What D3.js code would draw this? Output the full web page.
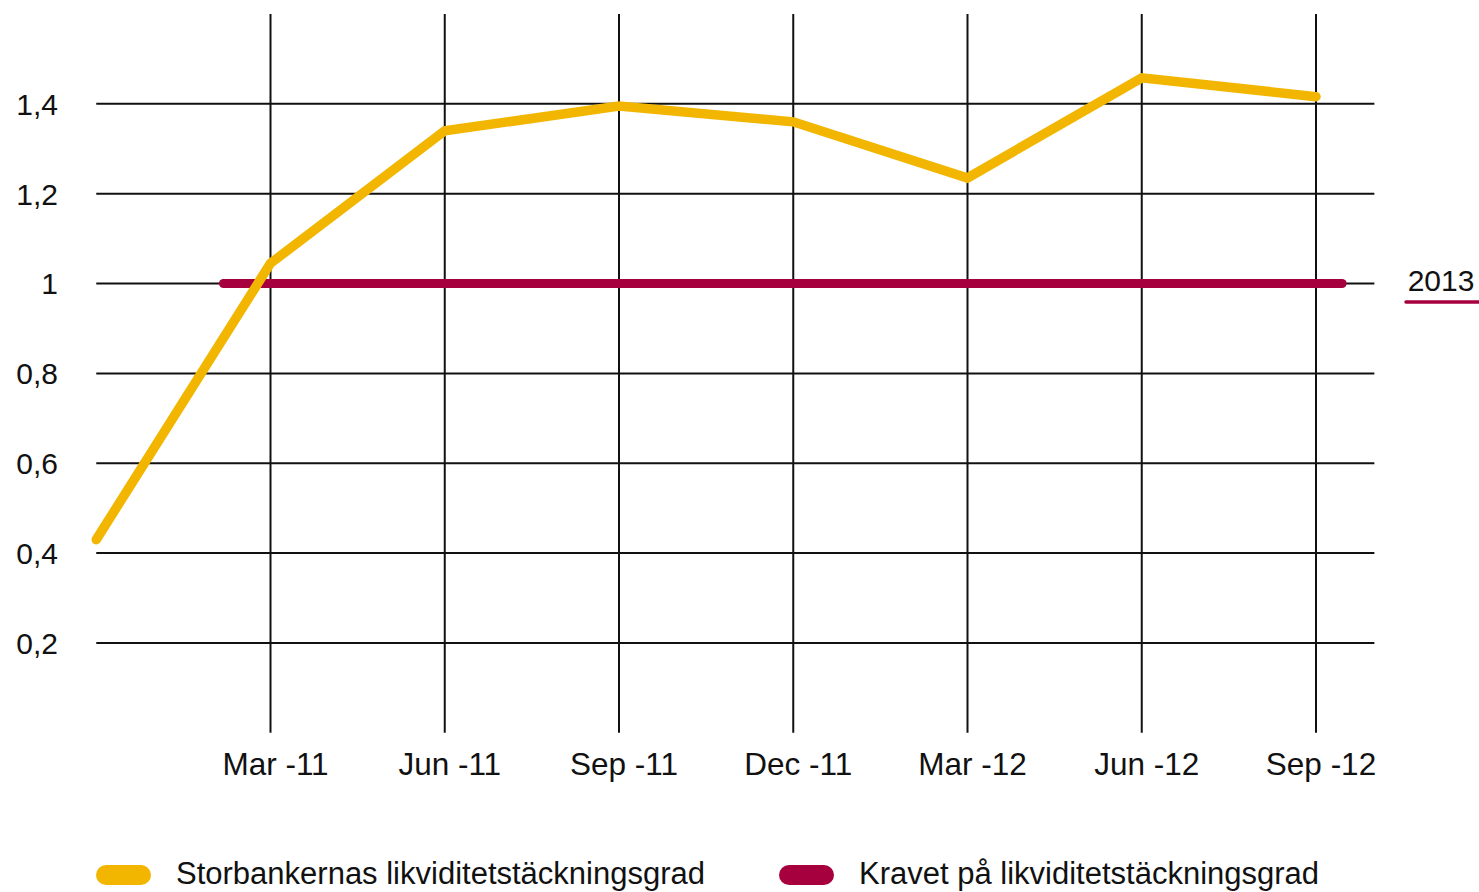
<!DOCTYPE html>
<html>
<head>
<meta charset="utf-8">
<script src="https://cdn.jsdelivr.net/npm/d3@7"></script>
<style>
html,body{margin:0;padding:0;background:#fff;}
svg{display:block;font-family:"Liberation Sans",Arial,sans-serif;}
</style>
</head>
<body>
<svg id="chart" width="1479" height="892"></svg>
<script>
const periods = ["Dec -10","Mar -11","Jun -11","Sep -11","Dec -11","Mar -12","Jun -12","Sep -12"];
const tickLabels = ["Mar -11","Jun -11","Sep -11","Dec -11","Mar -12","Jun -12","Sep -12"];
const ratioValues = [0.43, 1.045, 1.34, 1.395, 1.36, 1.235, 1.458, 1.416];
const requirementValue = 1;
const requirementSpan = [0.73, 7.15];
const yTicks = [0.2, 0.4, 0.6, 0.8, 1, 1.2, 1.4];
const seriesNames = ["Storbankernas likviditetstäckningsgrad", "Kravet på likviditetstäckningsgrad"];
const requirementLabel = "2013";

const YELLOW = "#F2B600", CRIMSON = "#A6003F";
const svg = d3.select("#chart");
const x = d3.scaleLinear().domain([0, 7]).range([96.25, 1316]);
const y = d3.scaleLinear().domain([0, 1.6]).range([732.8, 14]);
const fmt = v => String(v).replace(".", ",");

// horizontal gridlines
svg.append("g").selectAll("line").data(yTicks).join("line")
  .attr("x1", x(0)).attr("x2", x(7.335))
  .attr("y1", d => y(d)).attr("y2", d => y(d))
  .attr("stroke", "#111").attr("stroke-width", 2);

// vertical gridlines
svg.append("g").selectAll("line").data(d3.range(1, 8)).join("line")
  .attr("x1", d => x(d)).attr("x2", d => x(d))
  .attr("y1", y(1.6)).attr("y2", y(0))
  .attr("stroke", "#111").attr("stroke-width", 2);

// y labels
svg.append("g").selectAll("text").data(yTicks).join("text")
  .attr("x", 58).attr("y", d => y(d)).attr("dy", "0.36em")
  .attr("text-anchor", "end").attr("font-size", 30).attr("fill", "#111")
  .text(fmt);

// x labels
svg.append("g").selectAll("text").data(tickLabels).join("text")
  .attr("x", (d, i) => x(i + 1) + 5).attr("y", 775)
  .attr("text-anchor", "middle").attr("font-size", 31.5).attr("fill", "#111")
  .text(d => d);

// requirement line
svg.append("line")
  .attr("x1", x(requirementSpan[0])).attr("x2", x(requirementSpan[1]))
  .attr("y1", y(requirementValue)).attr("y2", y(requirementValue))
  .attr("stroke", CRIMSON).attr("stroke-width", 9).attr("stroke-linecap", "round");

// ratio line
svg.append("path")
  .datum(ratioValues)
  .attr("d", d3.line().x((d, i) => x(i)).y(d => y(d)))
  .attr("fill", "none").attr("stroke", YELLOW).attr("stroke-width", 9.5)
  .attr("stroke-linecap", "round").attr("stroke-linejoin", "miter");

// 2013 label
svg.append("text").attr("x", 1441).attr("y", 291).attr("text-anchor", "middle")
  .attr("font-size", 30).attr("fill", "#111").text(requirementLabel);
svg.append("line").attr("x1", 1406).attr("x2", 1479).attr("y1", 302).attr("y2", 302)
  .attr("stroke", CRIMSON).attr("stroke-width", 3.5).attr("stroke-linecap", "round");

// legend
const legend = [{name: seriesNames[0], color: YELLOW, x: 96}, {name: seriesNames[1], color: CRIMSON, x: 779}];
const lg = svg.append("g").selectAll("g").data(legend).join("g");
lg.append("line").attr("x1", d => d.x + 10).attr("x2", d => d.x + 45)
  .attr("y1", 875).attr("y2", 875).attr("stroke", d => d.color)
  .attr("stroke-width", 20).attr("stroke-linecap", "round");
lg.append("text").attr("x", d => d.x + 80).attr("y", 884)
  .attr("font-size", 31).attr("fill", "#111").text(d => d.name);
</script>
</body>
</html>
